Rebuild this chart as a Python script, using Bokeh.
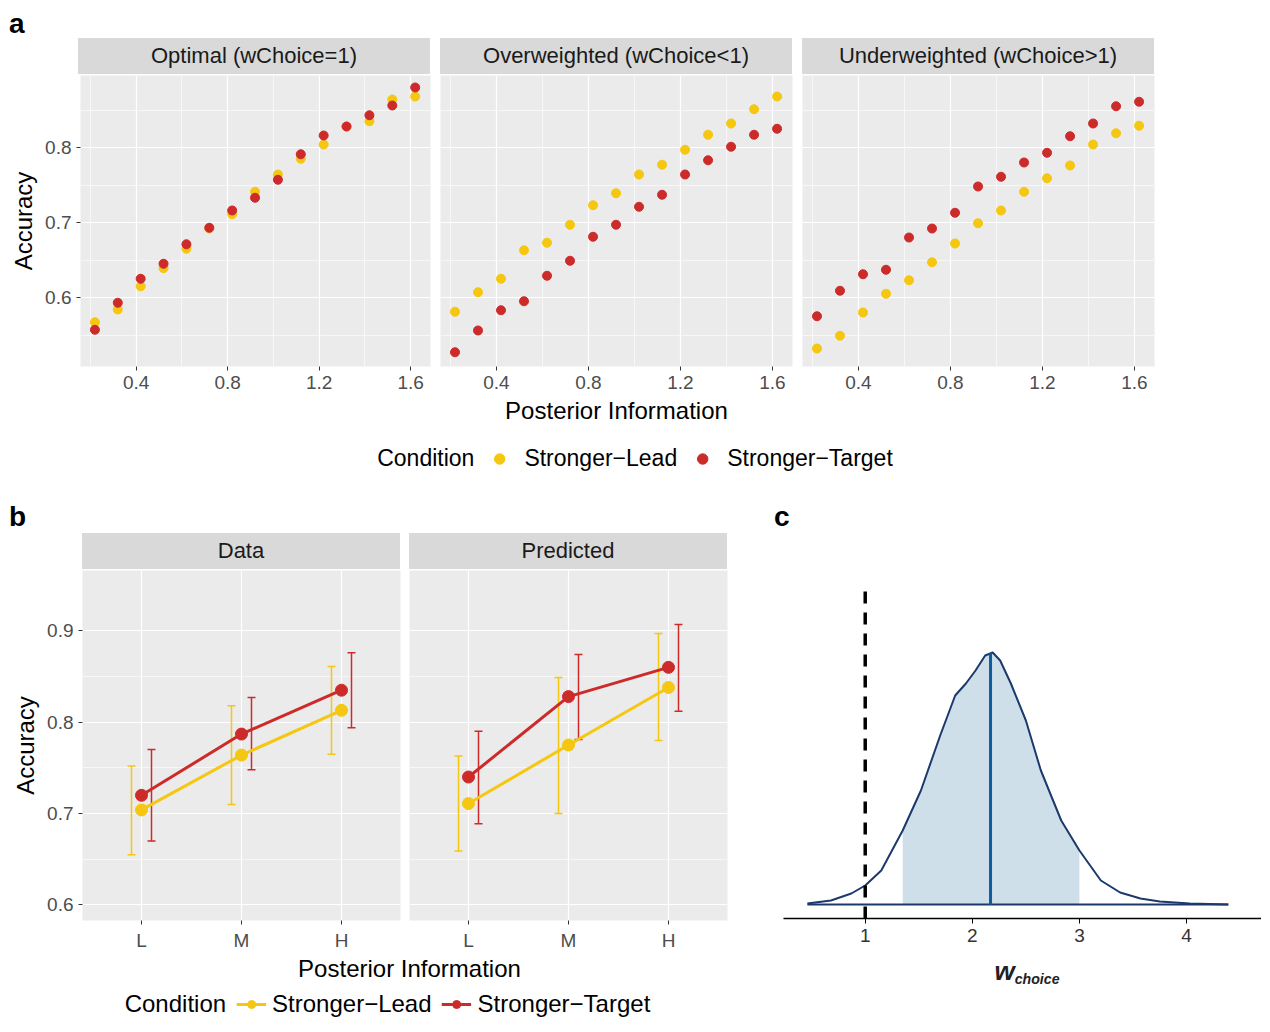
import numpy as np
from bokeh.plotting import figure
from bokeh.layouts import row, column
from bokeh.models import Div, FixedTicker, Legend, LegendItem, Whisker, ColumnDataSource, Range1d, TeeHead
from bokeh.embed import file_html
from bokeh.resources import INLINE

FONT = "Liberation Sans"
YEL = "#F5C710"
RED = "#CD2A2A"

# ---- panel a data
post_info = [0.22, 0.32, 0.42, 0.52, 0.62, 0.72, 0.82, 0.92, 1.02, 1.12, 1.22, 1.32, 1.42, 1.52, 1.62]
opt_lead = [0.567, 0.584, 0.615, 0.639, 0.665, 0.692, 0.711, 0.741, 0.764, 0.785, 0.804, 0.828, 0.835, 0.864, 0.868]
opt_target = [0.557, 0.593, 0.625, 0.645, 0.671, 0.693, 0.716, 0.733, 0.757, 0.791, 0.816, 0.828, 0.843, 0.856, 0.880]
over_lead = [0.581, 0.607, 0.625, 0.663, 0.673, 0.697, 0.723, 0.739, 0.764, 0.777, 0.797, 0.817, 0.832, 0.851, 0.868]
over_target = [0.527, 0.556, 0.583, 0.595, 0.629, 0.649, 0.681, 0.697, 0.721, 0.737, 0.764, 0.783, 0.801, 0.817, 0.825]
under_lead = [0.532, 0.549, 0.580, 0.605, 0.623, 0.647, 0.672, 0.699, 0.716, 0.741, 0.759, 0.776, 0.804, 0.819, 0.829]
under_target = [0.575, 0.609, 0.631, 0.637, 0.680, 0.692, 0.713, 0.748, 0.761, 0.780, 0.793, 0.815, 0.832, 0.855, 0.861]
facets_a = ["Optimal (wChoice=1)", "Overweighted (wChoice<1)", "Underweighted (wChoice>1)"]

# ---- panel b data
levels = ["L", "M", "H"]
data_lead = [0.704, 0.764, 0.813]
data_lead_lo = [0.655, 0.710, 0.765]
data_lead_hi = [0.752, 0.818, 0.861]
data_target = [0.720, 0.787, 0.835]
data_target_lo = [0.670, 0.748, 0.794]
data_target_hi = [0.770, 0.827, 0.876]
pred_lead = [0.711, 0.775, 0.838]
pred_lead_lo = [0.659, 0.700, 0.780]
pred_lead_hi = [0.763, 0.849, 0.897]
pred_target = [0.740, 0.828, 0.860]
pred_target_lo = [0.689, 0.781, 0.812]
pred_target_hi = [0.790, 0.874, 0.907]

# ---- panel c data (posterior density of w_choice, arbitrary units)
w_x = [0.46, 0.68, 0.87, 1.0, 1.15, 1.35, 1.52, 1.70, 1.84, 1.94, 2.03, 2.12, 2.19, 2.26, 2.36,
       2.50, 2.64, 2.83, 3.0, 3.20, 3.38, 3.57, 3.75, 4.03, 4.39]
w_dens = [1, 4, 11, 19, 34, 74, 114, 169, 209, 221, 234, 249, 252, 244, 221,
          184, 134, 84, 54, 24, 12, 6, 3, 1, 0]
w_median = 2.17
ci_lo, ci_hi = 1.35, 3.0


def style(p, xticks, xminor, yticks, yminor, show_y):
    p.background_fill_color = "#EBEBEB"
    p.border_fill_color = "white"
    p.outline_line_color = None
    p.xaxis.ticker = FixedTicker(ticks=xticks, minor_ticks=xminor)
    p.yaxis.ticker = FixedTicker(ticks=yticks, minor_ticks=yminor)
    p.grid.grid_line_color = "white"
    p.grid.grid_line_width = 1.2
    p.grid.minor_grid_line_color = "white"
    p.grid.minor_grid_line_width = 0.6
    for ax in p.axis:
        ax.axis_line_color = None
        ax.major_tick_line_color = "#333333"
        ax.major_tick_out = 4
        ax.major_tick_in = 0
        ax.minor_tick_line_color = None
        ax.major_label_text_color = "#4D4D4D"
        ax.major_label_text_font = FONT
        ax.major_label_text_font_size = "19px"
        ax.axis_label_text_font = FONT
        ax.axis_label_text_font_size = "24px"
        ax.axis_label_text_font_style = "normal"
        ax.axis_label_text_color = "black"
    if not show_y:
        p.yaxis.major_label_text_font_size = "0px"
        p.yaxis.major_tick_line_color = None


def strip(text, w, ml, mr, h=36):
    return Div(text=text, width=w, height=h, margin=(0, mr, 0, ml),
               styles={"background-color": "#D9D9D9", "text-align": "center",
                       "font-family": FONT, "font-size": "22px", "line-height": f"{h}px",
                       "color": "#1A1A1A"})


def label(text, w, h, ml):
    return Div(text=text, width=w, height=h, margin=(0, 0, 0, ml),
               styles={"font-family": FONT, "font-size": "28px", "font-weight": "bold",
                       "line-height": f"{h + 10}px"})


def legend_fig(w, h):
    f = figure(width=w, height=h, output_backend="svg", toolbar_location=None,
               x_range=Range1d(0, 1), y_range=Range1d(0, 1), min_border=0)
    f.axis.visible = False
    f.grid.visible = False
    f.outline_line_color = None
    return f


# ---------------- panel a
series_a = [(opt_lead, opt_target), (over_lead, over_target), (under_lead, under_target)]
borders = [(71, 5, 428), (5, 5, 362), (5, 10, 367)]
cols_a = []
for i, ((lead, target), (bl, br, w)) in enumerate(zip(series_a, borders)):
    p = figure(width=w, height=352, x_range=Range1d(0.157, 1.687), y_range=Range1d(0.508, 0.896),
               output_backend="svg", toolbar_location=None,
               min_border_left=bl, min_border_right=br, min_border_top=1, min_border_bottom=60)
    style(p, [0.4, 0.8, 1.2, 1.6], [0.2, 0.6, 1.0, 1.4], [0.6, 0.7, 0.8], [0.55, 0.65, 0.75, 0.85], i == 0)
    p.scatter(post_info, lead, size=9, color=YEL)
    p.scatter(post_info, target, size=9, color=RED)
    if i == 0:
        p.yaxis.axis_label = "Accuracy"
    if i == 1:
        p.xaxis.axis_label = "Posterior Information"
    cols_a.append(column(strip(facets_a[i], 352, bl, br), p, spacing=0))
row_a = row(*cols_a, spacing=0)

# legend a
la = legend_fig(1218, 64)
r0 = la.scatter([-5], [-5], size=9, color=YEL, alpha=0)
r1 = la.scatter([-5], [-5], size=9, color=YEL)
r2 = la.scatter([-5], [-5], size=9, color=RED)
leg_a = Legend(items=[LegendItem(label="Condition", renderers=[r0]),
                      LegendItem(label="Stronger\u2212Lead", renderers=[r1]),
                      LegendItem(label="Stronger\u2212Target", renderers=[r2])],
               orientation="horizontal", location="center", border_line_color=None,
               label_text_font=FONT, label_text_font_size="23px", label_text_color="black",
               glyph_width=26, glyph_height=26,
               spacing=12, label_standoff=12, background_fill_alpha=0)
la.add_layout(leg_a)

# ---------------- panel b
xpos = [1, 2, 3]
facets_b = [("Data", data_lead, data_lead_lo, data_lead_hi, data_target, data_target_lo, data_target_hi),
            ("Predicted", pred_lead, pred_lead_lo, pred_lead_hi, pred_target, pred_target_lo, pred_target_hi)]
borders_b = [(75, 4, 397), (5, 5, 328)]
cols_b = []
for i, (fac, bl_) in enumerate(zip(facets_b, borders_b)):
    name, ld, ldl, ldh, tg, tgl, tgh = fac
    bl, br, w = bl_
    p = figure(width=w, height=384, x_range=Range1d(0.41, 3.59), y_range=Range1d(0.583, 0.966),
               output_backend="svg", toolbar_location=None,
               min_border_left=bl, min_border_right=br, min_border_top=1, min_border_bottom=30)
    style(p, xpos, [], [0.6, 0.7, 0.8, 0.9], [0.65, 0.75, 0.85], i == 0)
    p.xaxis.major_label_overrides = {k: v for k, v in zip(xpos, levels)}
    for vals, lo, hi, col, off in [(ld, ldl, ldh, YEL, -0.1), (tg, tgl, tgh, RED, 0.1)]:
        src = ColumnDataSource(dict(x=[v + off for v in xpos], lo=lo, hi=hi))
        p.add_layout(Whisker(base="x", lower="lo", upper="hi", source=src, dimension="height",
                             line_color=col, line_width=1.5,
                             lower_head=TeeHead(size=8, line_color=col, line_width=1.5),
                             upper_head=TeeHead(size=8, line_color=col, line_width=1.5)))
        p.line(xpos, vals, color=col, line_width=3)
        p.scatter(xpos, vals, size=12, color=col)
    if i == 0:
        p.yaxis.axis_label = "Accuracy"
    cols_b.append(column(strip(name, 318, bl, br), p, spacing=0))
row_b_facets = row(*cols_b, spacing=0)
xlab_b = Div(text="Posterior Information", width=725, height=32, margin=(0, 0, 0, 0),
             styles={"font-family": FONT, "font-size": "24px", "text-align": "center",
                     "padding-left": "80px", "line-height": "32px"})

lb = legend_fig(725, 38)
q0 = lb.scatter([-5], [-5], size=9, color=YEL, alpha=0)
q1 = [lb.line([-5, -6], [-5, -6], color=YEL, line_width=3), lb.scatter([-5], [-5], size=12, color=YEL)]
q2 = [lb.line([-5, -6], [-5, -6], color=RED, line_width=3), lb.scatter([-5], [-5], size=12, color=RED)]
leg_b = Legend(items=[LegendItem(label="Condition", renderers=[q0]),
                      LegendItem(label="Stronger\u2212Lead", renderers=q1),
                      LegendItem(label="Stronger\u2212Target", renderers=q2)],
               orientation="horizontal", location="center", border_line_color=None,
               label_text_font=FONT, label_text_font_size="24px", label_text_color="black",
               glyph_width=30,
               spacing=10, label_standoff=6, background_fill_alpha=0, padding=0, margin=0)
lb.add_layout(leg_b)

# ---------------- panel c
pc = figure(width=527, height=415, x_range=Range1d(0.237, 4.70), y_range=Range1d(-14, 319),
            output_backend="svg", toolbar_location=None,
            min_border_left=49, min_border_right=0, min_border_top=52, min_border_bottom=30)
pc.background_fill_color = "white"
pc.outline_line_color = None
pc.grid.visible = False
pc.yaxis.visible = False
pc.xaxis.ticker = FixedTicker(ticks=[1, 2, 3, 4])
pc.xaxis.axis_line_color = "black"
pc.xaxis.axis_line_width = 1.5
pc.xaxis.major_tick_line_color = "black"
pc.xaxis.major_tick_out = 5
pc.xaxis.major_tick_in = 0
pc.xaxis.minor_tick_line_color = None
pc.xaxis.major_label_text_font = FONT
pc.xaxis.major_label_text_font_size = "19px"
pc.xaxis.major_label_text_color = "#333333"
wx = np.array(w_x)
wd = np.array(w_dens)
m = (wx >= ci_lo) & (wx <= ci_hi)
pc.varea(x=wx[m], y1=0, y2=wd[m], fill_color="#CFDFEA")
pc.line(w_x, w_dens, color="#1B3A6B", line_width=2)
pc.line([w_x[0], w_x[-1]], [0, 0], color="#1B3A6B", line_width=2)
pc.segment(x0=[w_median], y0=[0], x1=[w_median], y1=[np.interp(w_median, wx, wd)],
           color="#0E5C9E", line_width=3)
pc.segment(x0=[1], y0=[-14], x1=[1], y1=[319], color="black", line_width=3.5, line_dash="12 9")
wlab = Div(text="<b><i><span style='font-size:26px'>w</span><sub>choice</sub></i></b>",
           width=527, height=40,
           styles={"font-family": FONT, "font-size": "17px", "text-align": "center",
                   "padding-left": "49px", "color": "#222"})

col_b = column(label("b", 725, 43, 2), row_b_facets, xlab_b, lb, spacing=0)
col_c = column(label("c", 527, 43, 40), pc, wlab, spacing=0)
layout = column(label("a", 1218, 38, 2), row_a, la, row(col_b, col_c, spacing=0), spacing=0,
                margin=(0, 0, 0, 7))

open("out.html", "w").write(file_html(layout, INLINE))
